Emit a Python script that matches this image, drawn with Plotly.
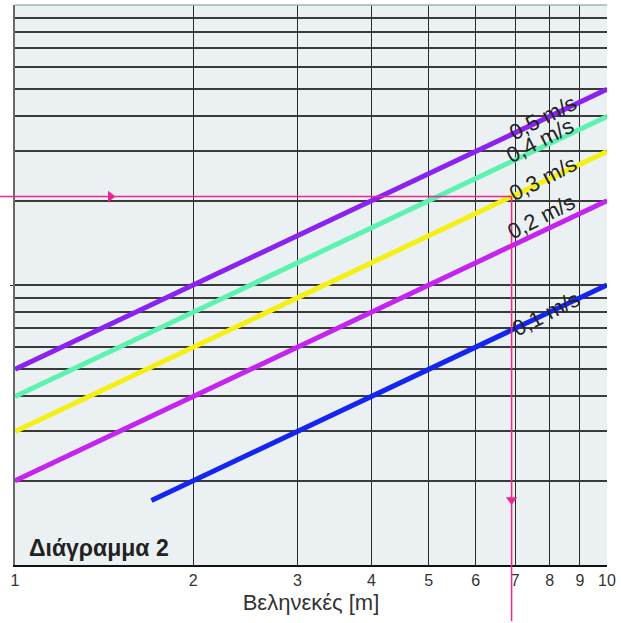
import math
import plotly.graph_objects as go

# ---- data (log-log chart) ----
x_ticks = [1, 2, 3, 4, 5, 6, 7, 8, 9, 10]
x_tick_text = ["1", "2", "3", "4", "5", "6", "7", "8", "9", "10"]
y_grid_major = [10]
y_grid_minor = [2, 3, 4, 5, 6, 7, 8, 9, 20, 30, 40, 50, 60, 70, 80, 90]

series_names = ["0,5 m/s", "0,4 m/s", "0,3 m/s", "0,2 m/s", "0,1 m/s"]
series_colors = ["#8a22f2", "#5ef2b2", "#f4f014", "#c424f0", "#1424f2"]

x_main = [1, 2, 3, 4, 5, 6, 7, 8, 9, 10]
y_05 = [5, 10, 15, 20, 25, 30, 35, 40, 45, 50]
y_04 = [4, 8, 12, 16, 20, 24, 28, 32, 36, 40]
y_03 = [3, 6, 9, 12, 15, 18, 21, 24, 27, 30]
y_02 = [2, 4, 6, 8, 10, 12, 14, 16, 18, 20]
x_01 = [1.7, 2, 3, 4, 5, 6, 7, 8, 9, 10]
y_01 = [1.7, 2, 3, 4, 5, 6, 7, 8, 9, 10]

series_x = [x_main, x_main, x_main, x_main, x_01]
series_y = [y_05, y_04, y_03, y_02, y_01]

# label anchor positions (data coords)
label_x = [7.8, 7.7, 7.8, 7.75, 7.9]
label_y = [39.5, 32.8, 24.0, 17.6, 7.9]

# pink reading guide
guide_x = 6.9
guide_y = 20.7
arrow_h_x = 1.45
arrow_v_y = 1.71

pink = "#f2248f"

fig = go.Figure()

for xs, ys, c, n in zip(series_x, series_y, series_colors, series_names):
    fig.add_trace(go.Scatter(x=xs, y=ys, mode="lines", name=n,
                             line=dict(color=c, width=5), hoverinfo="skip"))

# arrowheads on guide lines
fig.add_trace(go.Scatter(x=[arrow_h_x], y=[guide_y], mode="markers",
                         marker=dict(symbol="triangle-right", size=10, color=pink),
                         hoverinfo="skip"))
fig.add_trace(go.Scatter(x=[guide_x], y=[arrow_v_y], mode="markers",
                         marker=dict(symbol="triangle-down", size=10, color=pink),
                         hoverinfo="skip"))

# guide lines (extend beyond plot area)
fig.add_shape(type="line", xref="paper", yref="y", x0=-0.03, x1=math.log10(guide_x),
              y0=guide_y, y1=guide_y, line=dict(color=pink, width=1.5))
fig.add_shape(type="line", xref="x", yref="paper", x0=guide_x, x1=guide_x,
              y0=-0.1, y1=math.log10(guide_y) / 2.0, line=dict(color=pink, width=1.5))
# top border
fig.add_shape(type="line", xref="paper", yref="paper", x0=0, x1=1, y0=1, y1=1,
              line=dict(color="#9fb3b3", width=1.5))

for t, lx, ly in zip(series_names, label_x, label_y):
    fig.add_annotation(x=math.log10(lx), y=math.log10(ly), text=t, showarrow=False,
                       textangle=-27, font=dict(family="Liberation Sans, Arial", size=22, color="#222"))

fig.add_annotation(xref="paper", yref="paper", x=0.02, y=0.03, xanchor="left", yanchor="middle",
                   text="<b>Διάγραμμα 2</b>", showarrow=False,
                   font=dict(family="Liberation Sans, Arial", size=23, color="#222"))

fig.update_layout(
    width=621, height=623,
    margin=dict(l=15, r=14, t=5, b=58),
    paper_bgcolor="white", plot_bgcolor="#ebf1f2",
    showlegend=False,
    xaxis=dict(type="log", range=[0, 1], tickmode="array", tickvals=x_ticks, ticktext=x_tick_text,
               showgrid=False, ticks="", showline=True, linecolor="#111", linewidth=2,
               automargin=False,
               tickfont=dict(family="Liberation Sans Narrow, Arial Narrow, Liberation Sans", size=16, color="#333"),
               minor=dict(tickvals=x_ticks[1:-1], showgrid=True, gridcolor="#2a2a2a", gridwidth=1.3, ticks=""),
               title=dict(text="Βεληνεκές [m]", standoff=6,
                          font=dict(family="Liberation Sans, Arial", size=22, color="#333")),
               zeroline=False),
    yaxis=dict(type="log", range=[0, 2], tickmode="array", tickvals=y_grid_major,
               showticklabels=False, ticks="outside", ticklen=3, tickcolor="#333",
               showgrid=True, gridcolor="#3a3a3a", gridwidth=2,
               showline=True, linecolor="#6a6a6a", linewidth=2,
               automargin=False,
               minor=dict(tickvals=y_grid_minor, showgrid=True, gridcolor="#3a3a3a", gridwidth=2, ticks=""),
               zeroline=False),
)

fig.write_html("out.html", config={"displayModeBar": False},
               post_script="document.body.style.margin='0';")
